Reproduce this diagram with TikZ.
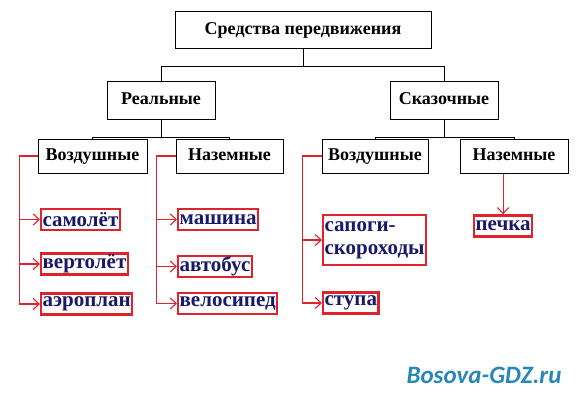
\documentclass[tikz,border=0pt]{standalone}
\usepackage{fontspec}
\setmainfont{Liberation Serif}
\newfontfamily\wmfont{Carlito}
\usetikzlibrary{arrows.meta}

\definecolor{boxred}{RGB}{222,35,45}
\definecolor{inkblue}{RGB}{25,25,105}
\definecolor{wmblue}{RGB}{40,135,185}

\begin{document}
\begin{tikzpicture}[x=1pt, y=-1pt, >={Straight Barb[length=6pt, width=11pt]},
    catbox/.style={draw, line width=1pt, fill=white, inner sep=0pt,
        text height=13pt, text depth=4pt,
        font=\bfseries\fontsize{18}{20}\selectfont},
    itembox/.style={draw=boxred, line width=2.2pt, fill=white, text=inkblue,
        inner xsep=1.5pt, inner ysep=0pt, minimum height=21pt, anchor=west, align=left,
        font=\bfseries\fontsize{21}{23}\selectfont},
    redline/.style={draw=boxred, line width=1.1pt, ->}
]
    \useasboundingbox (0,0) rectangle (579,400);

    % Top
    \node[catbox, minimum width=256pt, minimum height=37pt] (root) at (303,30) {Средства передвижения};

    % Real / fairy-tale
    \node[catbox, minimum width=108pt, minimum height=38pt] (real) at (161,100) {Реальные};
    \node[catbox, minimum width=108pt, minimum height=38pt] (fairy) at (444,100) {Сказочные};

    % Air / ground
    \node[catbox, minimum width=109pt, minimum height=34pt] (airL) at (92.5,156) {Воздушные};
    \node[catbox, minimum width=107pt, minimum height=34pt] (landL) at (229.5,156) {Наземные};
    \node[catbox, minimum width=106pt, minimum height=34pt] (airR) at (375,156) {Воздушные};
    \node[catbox, minimum width=108pt, minimum height=34pt] (landR) at (514,156) {Наземные};

    % Answers
    \node[itembox] (plane) at (40,219.5) {самолёт};
    \node[itembox] (heli) at (40,264) {вертолёт};
    \node[itembox] (aero) at (40,304) {аэроплан};
    \node[itembox] (car) at (177,219.5) {машина};
    \node[itembox] (bus) at (177,266.5) {автобус};
    \node[itembox] (bike) at (177,303.5) {велосипед};
    \node[itembox, minimum height=50pt] (boots) at (322,240) {сапоги-\\скороходы};
    \node[itembox] (stupa) at (322,303) {ступа};
    \node[itembox] (pechka) at (473,226) {печка};

    % Watermark
    \node[text=wmblue, font=\wmfont\bfseries\itshape\fontsize{25}{25}\selectfont] (wm) at (484,375) {Bosova-GDZ.ru};

    % Tree connections
    \draw[line width=1pt] (root.south) -- ++(0,17.5) -| (real.north);
    \draw[line width=1pt] (root.south) -- ++(0,17.5) -| (fairy.north);
    \foreach \a/\b in {real/airL, real/landL, fairy/airR, fairy/landR}
        \draw[line width=1pt] (\a.south) -- ++(0,18) -| (\b.north);

    % Red arrows
    \foreach \n in {plane, heli, aero}
        \draw[redline] (airL.west) -- ++(-18,0) |- (\n.west);
    \foreach \n in {car, bus, bike}
        \draw[redline] (landL.west) -- ++(-19,0) |- (\n.west);
    \foreach \n in {boots, stupa}
        \draw[redline] (airR.west) -- ++(-19,0) |- (\n.west);
    \draw[redline] (landR.south -| pechka.north) -- (pechka.north);

\end{tikzpicture}
\end{document}
